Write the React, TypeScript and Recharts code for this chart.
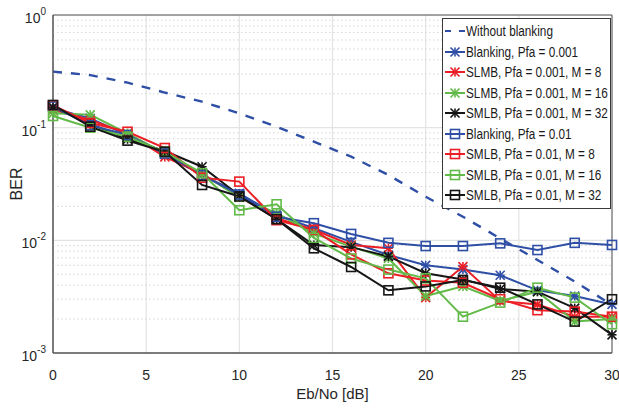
import React from 'react';
import {
    LineChart,
    Line,
    XAxis,
    YAxis,
    CartesianGrid,
    Legend,
    ReferenceLine,
    ReferenceArea,
} from 'recharts';

const FONT = "'Liberation Sans', Arial, sans-serif";

const snr = [0, 2, 4, 6, 8, 10, 12, 14, 16, 18, 20, 22, 24, 26, 28, 30];

const withoutBlanking = [0.314, 0.293, 0.251, 0.205, 0.17, 0.134, 0.102, 0.0751, 0.0553, 0.038, 0.0244, 0.0162, 0.0104, 0.0067, 0.0043, 0.00267];
const blanking001 = [0.149, 0.121, 0.086, 0.058, 0.038, 0.0261, 0.0168, 0.0128, 0.0097, 0.0074, 0.006, 0.0055, 0.0049, 0.0036, 0.0032, 0.0027];
const slmb001M8 = [0.144, 0.117, 0.089, 0.055, 0.039, 0.0244, 0.0157, 0.0124, 0.0091, 0.0085, 0.0031, 0.00585, 0.0029, 0.0027, 0.0021, 0.0021];
const slmb001M16 = [0.134, 0.13, 0.089, 0.059, 0.039, 0.024, 0.0174, 0.0115, 0.0088, 0.0069, 0.0032, 0.0039, 0.0029, 0.0035, 0.0019, 0.002];
const smlb001M32 = [0.152, 0.108, 0.079, 0.062, 0.045, 0.025, 0.0154, 0.0091, 0.0087, 0.0072, 0.0051, 0.0045, 0.0037, 0.0035, 0.0025, 0.00145];
const blanking01 = [0.154, 0.105, 0.086, 0.059, 0.038, 0.0255, 0.0162, 0.0142, 0.0114, 0.0095, 0.0089, 0.0089, 0.0094, 0.0082, 0.0095, 0.0091];
const smlb01M8 = [0.158, 0.11, 0.092, 0.066, 0.036, 0.0332, 0.0151, 0.0124, 0.0075, 0.0051, 0.0044, 0.0042, 0.003, 0.0024, 0.00233, 0.0021];
const smlb01M16 = [0.127, 0.1, 0.083, 0.061, 0.0394, 0.0185, 0.0209, 0.0105, 0.0069, 0.0055, 0.0046, 0.0021, 0.0028, 0.0038, 0.0031, 0.0018];
const smlb01M32 = [0.159, 0.102, 0.0767, 0.0612, 0.031, 0.0245, 0.0154, 0.0085, 0.0058, 0.0036, 0.0039, 0.00445, 0.0038, 0.0027, 0.0019, 0.003];

const xTicks = [0, 5, 10, 15, 20, 25, 30];
const yTicks = [0.001, 0.01, 0.1, 1];
const yMinorTicks = [
    0.002, 0.003, 0.004, 0.005, 0.006, 0.007, 0.008, 0.009,
    0.02, 0.03, 0.04, 0.05, 0.06, 0.07, 0.08, 0.09,
    0.2, 0.3, 0.4, 0.5, 0.6, 0.7, 0.8, 0.9,
];

const BLUE = '#2f4fa6';
const RED = '#ec1f26';
const GREEN = '#62ba48';
const BLACK = '#161616';

type Marker = 'none' | 'star' | 'square';

interface SeriesDef {
    key: string;
    name: string;
    color: string;
    marker: Marker;
    values: number[];
}

const series: SeriesDef[] = [
    { key: 'nb', name: 'Without blanking', color: BLUE, marker: 'none', values: withoutBlanking },
    { key: 'b001', name: 'Blanking, Pfa = 0.001', color: BLUE, marker: 'star', values: blanking001 },
    { key: 's001m8', name: 'SLMB, Pfa = 0.001, M = 8', color: RED, marker: 'star', values: slmb001M8 },
    { key: 's001m16', name: 'SLMB, Pfa = 0.001, M = 16', color: GREEN, marker: 'star', values: slmb001M16 },
    { key: 's001m32', name: 'SMLB, Pfa = 0.001, M = 32', color: BLACK, marker: 'star', values: smlb001M32 },
    { key: 'b01', name: 'Blanking, Pfa = 0.01', color: BLUE, marker: 'square', values: blanking01 },
    { key: 's01m8', name: 'SMLB, Pfa = 0.01, M = 8', color: RED, marker: 'square', values: smlb01M8 },
    { key: 's01m16', name: 'SMLB, Pfa = 0.01, M = 16', color: GREEN, marker: 'square', values: smlb01M16 },
    { key: 's01m32', name: 'SMLB, Pfa = 0.01, M = 32', color: BLACK, marker: 'square', values: smlb01M32 },
];

const data = snr.map((x, i) => {
    const row: Record<string, number> = { snr: x };
    series.forEach((s) => {
        row[s.key] = s.values[i];
    });
    return row;
});

const MarkerShape = ({ cx, cy, color, marker }: { cx: number; cy: number; color: string; marker: Marker }) => {
    if (marker === 'square') {
        const s = 4.5;
        return <rect x={cx - s} y={cy - s} width={2 * s} height={2 * s} fill="none" stroke={color} strokeWidth={1.6} />;
    }
    if (marker === 'star') {
        const s = 4.5;
        return (
            <g stroke={color} strokeWidth={1.6}>
                <line x1={cx - s} y1={cy - s} x2={cx + s} y2={cy + s} />
                <line x1={cx - s} y1={cy + s} x2={cx + s} y2={cy - s} />
                <line x1={cx} y1={cy - s} x2={cx} y2={cy + s} />
                <line x1={cx - s} y1={cy} x2={cx + s} y2={cy} />
            </g>
        );
    }
    return null;
};

const XTick = ({ x, y, payload }: { x?: number; y?: number; payload?: { value: number } }) => (
    <text x={x} y={(y ?? 0) + 19} textAnchor="middle" fill="#262626" fontSize={14} fontFamily={FONT}>
        {payload?.value}
    </text>
);

const YTick = ({ x, y, payload }: { x?: number; y?: number; payload?: { value: number } }) => {
    const exp = Math.round(Math.log10(payload?.value ?? 1));
    return (
        <text x={(x ?? 0) + 1} y={(y ?? 0) + 8} textAnchor="end" fill="#262626" fontSize={14} fontFamily={FONT}>
            10
            <tspan dy={-8} fontSize={10}>{exp}</tspan>
        </text>
    );
};

const YLabel = () => (
    <text x={18} y={184} transform="rotate(-90 18 184)" textAnchor="middle" dominantBaseline="middle" fill="#262626" fontSize={16} fontFamily={FONT}>
        BER
    </text>
);

const LegendBox = () => (
    <div
        style={{
            background: '#fff',
            border: '1px solid #3a3a3a',
            padding: '2px 0 2px 1px',
            fontFamily: FONT,
            fontSize: 14,
            color: '#1a1a1a',
            lineHeight: '20.5px',
            width: 166,
            overflow: 'hidden',
        }}
    >
        {series.map((s) => (
            <div key={s.key} style={{ display: 'flex', alignItems: 'center', whiteSpace: 'nowrap' }}>
                <svg width={22} height={12} style={{ flexShrink: 0 }}>
                    <line
                        x1={1}
                        y1={6}
                        x2={21}
                        y2={6}
                        stroke={s.color}
                        strokeWidth={2}
                        strokeDasharray={s.marker === 'none' ? '6 8' : undefined}
                    />
                    <MarkerShape cx={11} cy={6} color={s.color} marker={s.marker} />
                </svg>
                <span style={{ display: 'inline-block', transform: 'scaleX(0.84)', transformOrigin: 'left center' }}>
                    {s.name}
                </span>
            </div>
        ))}
    </div>
);

const App = () => {
    return (
        <div style={{ position: 'absolute', left: 0, top: 0, width: 619, height: 410, background: '#fff' }}>
            <LineChart
                width={619}
                height={410}
                data={data}
                margin={{ top: 15, right: 7, left: 0, bottom: 0 }}
            >
                <CartesianGrid stroke="#e3e3e3" strokeWidth={1.2} />
                {yMinorTicks.map((v) => (
                    <ReferenceLine key={v} y={v} stroke="#d6d6d6" strokeDasharray="1.5 2.5" ifOverflow="hidden" />
                ))}
                <XAxis
                    dataKey="snr"
                    type="number"
                    domain={[0, 30]}
                    ticks={xTicks}
                    height={57}
                    tickLine={false}
                    axisLine={{ stroke: '#555' }}
                    tick={<XTick />}
                    interval={0}
                    label={{ value: 'Eb/No [dB]', position: 'insideBottom', offset: 11, fill: '#262626', fontSize: 15, fontFamily: FONT }}
                />
                <YAxis
                    type="number"
                    scale="log"
                    domain={[0.001, 1]}
                    ticks={yTicks}
                    allowDataOverflow
                    width={53}
                    tickLine={false}
                    axisLine={{ stroke: '#555' }}
                    tick={<YTick />}
                    interval={0}
                    label={<YLabel />}
                />
                <ReferenceArea x1={0} x2={30} y1={0.001} y2={1} fill="none" stroke="#555" strokeWidth={1} />
                {series.map((s) => (
                    <Line
                        key={s.key}
                        dataKey={s.key}
                        name={s.name}
                        type="linear"
                        stroke={s.color}
                        strokeWidth={s.marker === 'none' ? 2.4 : 2}
                        strokeDasharray={s.marker === 'none' ? '9 9' : undefined}
                        isAnimationActive={false}
                        dot={(p: { cx: number; cy: number; index: number }) => (
                            <MarkerShape key={`${s.key}-${p.index}`} cx={p.cx} cy={p.cy} color={s.color} marker={s.marker} />
                        )}
                        activeDot={false}
                    />
                ))}
                <Legend
                    layout="vertical"
                    align="center"
                    verticalAlign="middle"
                    wrapperStyle={{ top: 18, left: 442, width: 168 }}
                    content={<LegendBox />}
                />
            </LineChart>
        </div>
    );
};

export default App;
